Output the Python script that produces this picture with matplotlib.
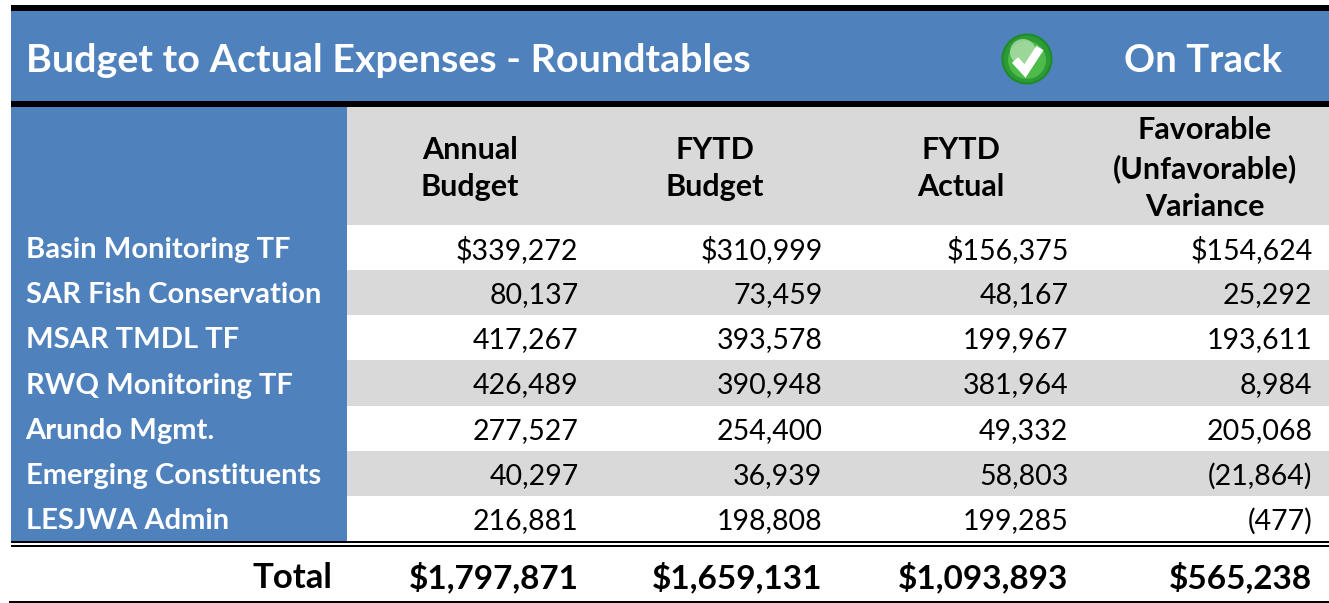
import matplotlib
matplotlib.use('Agg')
import matplotlib.pyplot as plt
from matplotlib.patches import Rectangle, Circle

plt.rcParams['font.family'] = ['Lato', 'DejaVu Sans']

title = 'Budget to Actual Expenses - Roundtables'
status = 'On Track'
headers = ['Annual\nBudget', 'FYTD\nBudget', 'FYTD\nActual', 'Favorable\n(Unfavorable)\nVariance']
rows = ['Basin Monitoring TF', 'SAR Fish Conservation', 'MSAR TMDL TF', 'RWQ Monitoring TF',
        'Arundo Mgmt.', 'Emerging Constituents', 'LESJWA Admin']
annual = ['$339,272', '80,137', '417,267', '426,489', '277,527', '40,297', '216,881']
fytd_budget = ['$310,999', '73,459', '393,578', '390,948', '254,400', '36,939', '198,808']
fytd_actual = ['$156,375', '48,167', '199,967', '381,964', '49,332', '58,803', '199,285']
variance = ['$154,624', '25,292', '193,611', '8,984', '205,068', '(21,864)', '(477)']
totals = ['$1,797,871', '$1,659,131', '$1,093,893', '$565,238']

blue = '#4f81bd'
grey = '#d9d9d9'
W, H = 1329, 603
col_right = [578.5, 822.5, 1068.5, 1312.5]
col_mid = [470, 715, 961, 1205]
row_h = 45.15
row_top = 225

fig = plt.figure(figsize=(W/100, H/100), dpi=100)
ax = fig.add_axes([0, 0, 1, 1])
ax.set_xlim(0, W)
ax.set_ylim(H, 0)
ax.axis('off')

def box(x, y, w, h, c, **kw):
    ax.add_patch(Rectangle((x, y), w, h, fc=c, ec='none', **kw))

# title band
box(11, 5, W-11, 6, 'black')
box(11, 11, W-11, 90, blue)
box(11, 101, W-11, 6, 'black')
ax.text(25.5, 58, title, color='white', fontsize=28.4, fontweight='bold', va='center_baseline')
ax.text(1203, 58, status, color='white', fontsize=27.6, fontweight='bold', va='center_baseline', ha='center')

# green check icon
ax.add_patch(Circle((1027, 59), 24.5, fc='#2c9a35', ec='#1f8a28', lw=1.5))
ax.add_patch(Circle((1027, 60), 19, fc='#4dbb4a', ec='none'))
ax.add_patch(Circle((1023, 52), 13, fc='#b9e0b4', ec='none', alpha=0.75))
ax.plot([1015, 1025, 1040], [60, 71, 48], color='white', lw=6, solid_capstyle='butt', solid_joinstyle='miter')

# header and side column
box(11, 107, 336, 434, blue)
box(347, 107, W-347, 118, grey)
for x, h in zip(col_mid, headers):
    ax.text(x, 168.5, h, ha='center', va='center', fontsize=22, fontweight='bold', color='black', linespacing=1.43)

# body rows
columns = [annual, fytd_budget, fytd_actual, variance]
for i, r in enumerate(rows):
    top = row_top + i*row_h
    if i % 2 == 1:
        box(347, top, W-347, row_h, grey)
    y = top + row_h/2
    ax.text(25.5, y, r, color='white', fontsize=21, fontweight='bold', va='center_baseline')
    for x, col in zip(col_right, columns):
        ax.text(x, y, col[i], ha='right', va='center_baseline', fontsize=20.5, color='black')

# total row
box(11, 541, W-11, 2, 'black')
box(11, 545, W-11, 2, 'black')
box(9, 601, W-9, 2, 'black')
ax.text(332, 575, 'Total', ha='right', va='center_baseline', fontsize=25, fontweight='bold', color='black')
for x, t in zip(col_right, totals):
    ax.text(x, 575, t, ha='right', va='center_baseline', fontsize=24, fontweight='bold', color='black')

fig.savefig('out.png', dpi=100)
